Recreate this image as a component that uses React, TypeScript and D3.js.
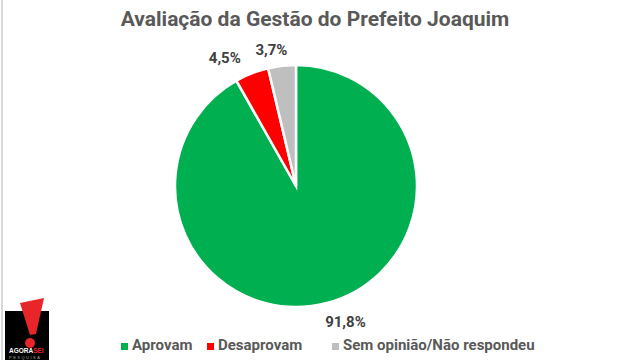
import React from "react";
import * as d3 from "d3";

const categories = ["Aprovam", "Desaprovam", "Sem opinião/Não respondeu"];
const values = [91.8, 4.5, 3.7];
const labels = ["91,8%", "4,5%", "3,7%"];
const colors = ["#00B050", "#FF0000", "#BFBFBF"];

export default function App() {
  const W = 630, H = 360;
  const cx = 296, cy = 186, r = 121;
  const pie = d3.pie<number>().sort(null).value((d) => d);
  const arcs = pie(values);
  const arc = d3.arc<d3.PieArcDatum<number>>().innerRadius(0).outerRadius(r);
  const labelArc = d3.arc<d3.PieArcDatum<number>>().innerRadius(r + 22).outerRadius(r + 22);
  const labelOffsets = [[13, -1], [-19, 6], [-8, 7]];
  const legendX = [121, 207, 332];
  return (
    <svg width={W} height={H} style={{ position: "absolute", left: 0, top: 0, fontFamily: "Roboto, 'Noto Sans', sans-serif" }}>
      <rect width={W} height={H} fill="#fff" />
      <line x1={2} y1={0} x2={2} y2={H} stroke="#d9d9d9" strokeWidth={2} />
      <text x={315} y={26} textAnchor="middle" fontSize={21} fontWeight={700} fill="#595959">
        Avaliação da Gestão do Prefeito Joaquim
      </text>
      <g transform={`translate(${cx},${cy})`}>
        {arcs.map((a, i) => (
          <path key={i} d={arc(a) || ""} fill={colors[i]} stroke="#fff" strokeWidth={2.5} />
        ))}
        {arcs.map((a, i) => {
          const [x, y] = labelArc.centroid(a);
          return (
            <text key={"l" + i} x={x + labelOffsets[i][0]} y={y + labelOffsets[i][1]} textAnchor="middle" dominantBaseline="middle" fontSize={15} fontWeight={700} fill="#404040">
              {labels[i]}
            </text>
          );
        })}
      </g>
      {categories.map((c, i) => (
        <g key={c} transform={`translate(${legendX[i]},350)`}>
          <rect x={0} y={-7} width={7} height={7} fill={colors[i]} />
          <text x={11} y={0} fontSize={15} fontWeight={700} fill="#595959">{c}</text>
        </g>
      ))}
      <g>
        <rect x={5} y={311} width={44} height={49} fill="#000" />
        <path d="M20,303 L44,298 L36,334 L30,335 Z" fill="#e8262a" />
        <circle cx={30} cy={343} r={5} fill="#e8262a" />
        <text x={9} y={353} fontSize={6.5} fontWeight={700} fill="#fff" fontFamily="Arial, sans-serif">AGORA<tspan fill="#e8262a">SEI</tspan></text>
        <text x={9} y={358.5} fontSize={4} fill="#aaa" letterSpacing={1.5} fontFamily="Arial, sans-serif">PESQUISA</text>
      </g>
    </svg>
  );
}
